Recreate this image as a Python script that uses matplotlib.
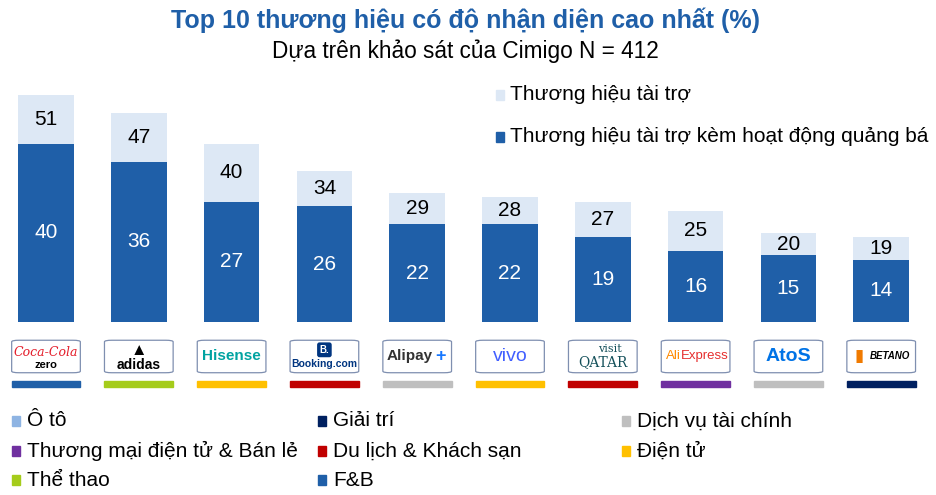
import matplotlib
matplotlib.use('Agg')
import matplotlib.pyplot as plt
from matplotlib.patches import FancyBboxPatch, Rectangle

plt.rcParams['font.family'] = ['Liberation Sans', 'DejaVu Sans']

# data
brands = ['Coca-Cola Zero', 'adidas', 'Hisense', 'Booking.com', 'Alipay+',
          'vivo', 'Visit Qatar', 'AliExpress', 'Atos', 'Betano']
total = [51, 47, 40, 34, 29, 28, 27, 25, 20, 19]
with_activation = [40, 36, 27, 26, 22, 22, 19, 16, 15, 14]
brand_sector = ['F&B', 'Thể thao', 'Điện tử', 'Du lịch & Khách sạn', 'Dịch vụ tài chính',
                'Điện tử', 'Du lịch & Khách sạn', 'Thương mại điện tử & Bán lẻ',
                'Dịch vụ tài chính', 'Giải trí']
sectors = ['Ô tô', 'Giải trí', 'Dịch vụ tài chính',
           'Thương mại điện tử & Bán lẻ', 'Du lịch & Khách sạn', 'Điện tử',
           'Thể thao', 'F&B']
sector_colors = {'Ô tô': '#8EB4E3', 'Giải trí': '#002060', 'Dịch vụ tài chính': '#BFBFBF',
                 'Thương mại điện tử & Bán lẻ': '#7030A0', 'Du lịch & Khách sạn': '#C00000',
                 'Điện tử': '#FFC000', 'Thể thao': '#A5CC1B', 'F&B': '#1F5FA8'}

DARK = '#1F5FA8'
LIGHT = '#DDE8F5'

fig = plt.figure(figsize=(9.37, 4.95), dpi=100)
ax = fig.add_axes([0, 173 / 495, 1, 242 / 495])
x = list(range(len(brands)))
ax.set_xlim(-46 / 92.8, (937 - 46) / 92.8)
ax.set_ylim(0, 242 / 4.45)
ax.axis('off')

top_part = [t - w for t, w in zip(total, with_activation)]
ax.bar(x, with_activation, width=0.6, color=DARK, label='Thương hiệu tài trợ kèm hoạt động quảng bá')
ax.bar(x, top_part, bottom=with_activation, width=0.6, color=LIGHT, label='Thương hiệu tài trợ')

for i in x:
    ax.text(i, with_activation[i] / 2, str(with_activation[i]), ha='center', va='center',
            color='white', fontsize=15)
    ax.text(i, (total[i] + with_activation[i]) / 2, str(total[i]), ha='center', va='center',
            color='black', fontsize=15)

# logo boxes and sector underline
for i in x:
    box = FancyBboxPatch((i - 0.37, -11.4), 0.74, 7.3, boxstyle='round,pad=0,rounding_size=0.08',
                         mutation_aspect=4.4, fc='white', ec='#7F8FB0', lw=0.9, clip_on=False)
    ax.add_patch(box)
    ax.add_patch(Rectangle((i - 0.37, -14.6), 0.74, 1.4, color=sector_colors[brand_sector[i]],
                           clip_on=False))

ym = -7.75
kw = dict(ha='center', va='center', clip_on=False)
ax.text(0, ym + 1.0, 'Coca-Cola', color='#E41E2B', fontsize=9, style='italic',
        family='DejaVu Serif', **kw)
ax.text(0, ym - 1.9, 'zero', color='black', fontsize=8, weight='bold', **kw)
ax.text(1, ym + 1.3, '▲', color='black', fontsize=12, **kw)
ax.text(1, ym - 1.9, 'adidas', color='black', fontsize=10, weight='bold', **kw)
ax.text(2, ym, 'Hisense', color='#00A3A1', fontsize=11, weight='bold', **kw)
ax.text(3, ym + 1.5, 'B.', color='white', fontsize=7, weight='bold',
        bbox=dict(boxstyle='round,pad=0.25', fc='#003580', ec='none'), **kw)
ax.text(3, ym - 1.8, 'Booking.com', color='#003580', fontsize=7.5, weight='bold', **kw)
ax.text(4 - 0.08, ym, 'Alipay', color='#333333', fontsize=11, weight='bold', **kw)
ax.text(4 + 0.25, ym, '+', color='#1677FF', fontsize=13, weight='bold', **kw)
ax.text(5, ym, 'vivo', color='#415FFF', fontsize=14, **kw)
ax.text(6 + 0.08, ym + 1.6, 'visit', color='#14505A', fontsize=8, family='DejaVu Serif', **kw)
ax.text(6, ym - 1.2, 'QATAR', color='#14505A', fontsize=10, family='DejaVu Serif', **kw)
ax.text(7 - 0.16, ym, 'Ali', color='#FF8A00', fontsize=9.5, ha='right', va='center', clip_on=False)
ax.text(7 - 0.16, ym, 'Express', color='#E62E2E', fontsize=9.5, ha='left', va='center',
        clip_on=False)
ax.text(8, ym, 'AtoS', color='#0073E6', fontsize=14, weight='bold', **kw)
ax.text(9 - 0.24, ym, '▮', color='#F07A00', fontsize=12, **kw)
ax.text(9 + 0.09, ym, 'BETANO', color='black', fontsize=7, weight='bold', style='italic', **kw)

# top legend
fig.add_artist(Rectangle((496 / 937, 1 - 100 / 495), 8 / 937, 10 / 495, color=LIGHT))
fig.text(510 / 937, 1 - 95 / 495, 'Thương hiệu tài trợ', fontsize=15, va='center')
fig.add_artist(Rectangle((496 / 937, 1 - 142 / 495), 8 / 937, 10 / 495, color=DARK))
fig.text(510 / 937, 1 - 137 / 495, 'Thương hiệu tài trợ kèm hoạt động quảng bá', fontsize=15,
         va='center')

# titles
fig.text(0.497, 1 - 20 / 495, 'Top 10 thương hiệu có độ nhận diện cao nhất (%)', ha='center',
         va='center', fontsize=18, weight='bold', color='#1F5FA8')
fig.text(0.497, 1 - 51 / 495, 'Dựa trên khảo sát của Cimigo N = 412', ha='center', va='center',
         fontsize=16.3)

# sector legend
col_x = [12, 318, 622]
row_y = [421, 451, 480]
for k, s in enumerate(sectors):
    cx = col_x[k % 3]
    cy = row_y[k // 3]
    fig.add_artist(Rectangle((cx / 937, 1 - (cy + 5) / 495), 8 / 937, 10 / 495,
                             color=sector_colors[s]))
    fig.text((cx + 15) / 937, 1 - cy / 495, s, fontsize=15, va='center')

fig.savefig('out.png', dpi=100)
